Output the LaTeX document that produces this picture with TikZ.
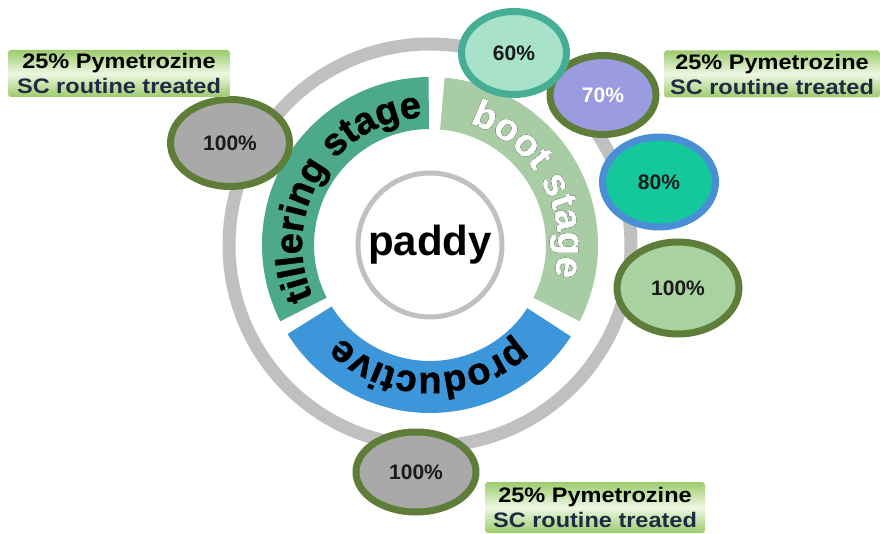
\documentclass[tikz,border=0pt]{standalone}
\usepackage{fontspec}
\setmainfont{Liberation Sans}
\newfontfamily\labfont{Liberation Sans}[FakeStretch=1.12]
\newfontfamily\ringfont{Liberation Sans}[BoldFeatures={FakeBold=1.3}]
\usetikzlibrary{decorations.text,shapes.geometric}
\definecolor{ringgray}{HTML}{C0C0C0}
\definecolor{tillcol}{HTML}{4CAA8B}
\definecolor{bootcol}{HTML}{A8CDA4}
\definecolor{prodcol}{HTML}{3E96DA}
\definecolor{oliveb}{HTML}{5E7D38}
\definecolor{ellgray}{HTML}{A9A9A9}
\definecolor{mintfill}{HTML}{A8E2CA}
\definecolor{tealline}{HTML}{45AE95}
\definecolor{lavfill}{HTML}{9B9BE0}
\definecolor{seafill}{HTML}{14C89C}
\definecolor{blueline}{HTML}{4A8FD6}
\definecolor{sagefill}{HTML}{A8D2A0}
\definecolor{navytxt}{HTML}{1F2A44}
\definecolor{pcttxt}{HTML}{1A1A1A}
\definecolor{shadowgray}{HTML}{555555}
\definecolor{labL}{HTML}{EEF7E2}
\definecolor{labT}{HTML}{9CCB6C}
\newcommand\ringtxt[4]{%
  \path[decorate, decoration={text along path, text align=center, text color=#4,
    text={|\ringfont\bfseries\fontsize{38}{38}\selectfont|#3}}]
    ([shift={(#1:128)}]C) arc[start angle=#1, end angle=#2, radius=128];}
\newcommand\sector[3]{%
  \fill[#3] ([shift={(#1:168)}]C) arc[start angle=#1, end angle=#2, radius=168]
    -- ([shift={(#2:116)}]C) arc[start angle=#2, end angle=#1, radius=116] -- cycle;}
\begin{document}
\begin{tikzpicture}[x=1pt,y=1pt,
  pct/.style={ellipse, line width=7pt, inner sep=0pt, text=pcttxt,
    font=\bfseries\fontsize{21}{21}\selectfont},
  labelbox/.style={rounded corners=3pt, top color=labT, bottom color=labT, middle color=labL,
    inner sep=0pt, minimum height=47pt, align=center,
    font=\labfont\bfseries\fontsize{21}{25}\selectfont}]
\useasboundingbox (0,0) rectangle (880,533);
\coordinate (C) at (430,288);
% outer gray ring
\draw[ringgray, line width=13pt] (C) circle[radius=201];
% stage sectors
\sector{90.5}{207}{tillcol}
\sector{212}{327}{prodcol}
\sector{-27}{85}{bootcol}
% centre
\node[circle, draw=ringgray, line width=5pt, minimum size=144pt, inner sep=0pt,
  font=\bfseries\fontsize{42}{42}\selectfont] (paddy) at (C) {paddy};
% ring texts
\ringtxt{207}{90.5}{tillering stage}{black}
\ringtxt{327}{212}{productive}{black}
\foreach \dx/\dy in {-1.8/-1.6,-1/0,0/-1,0.8/0.6,-0.6/0.8}{
  \begin{scope}[shift={(\dx,\dy)}]\ringtxt{85}{-27}{boot stage}{shadowgray}\end{scope}}
\ringtxt{85}{-27}{boot stage}{white}
% percentage ellipses
\node[pct, draw=oliveb, fill=ellgray, minimum width=119pt, minimum height=87pt] (eL) at (230,390) {100\%};
\node[pct, draw=oliveb, fill=lavfill, text=white, minimum width=106pt, minimum height=79pt] (e70) at (603,438) {70\%};
\node[pct, draw=tealline, fill=mintfill, minimum width=105pt, minimum height=83pt] (e60) at (514,480) {60\%};
\node[pct, draw=blueline, fill=seafill, minimum width=113pt, minimum height=90pt] (e80) at (659,351) {80\%};
\node[pct, draw=oliveb, fill=sagefill, minimum width=122pt, minimum height=92pt] (eR) at (678,245) {100\%};
\node[pct, draw=oliveb, fill=ellgray, minimum width=120pt, minimum height=80pt] (eB) at (416,61) {100\%};
% treatment labels
\node[labelbox, minimum width=222pt] (labTL) at (119,459.5) {25\% Pymetrozine\\\textcolor{navytxt}{SC routine treated}};
\node[labelbox, minimum width=216pt] (labTR) at (772,459) {25\% Pymetrozine\\\textcolor{navytxt}{SC routine treated}};
\node[labelbox, minimum width=220pt, minimum height=51pt] (labB) at (595,25.5) {25\% Pymetrozine\\\textcolor{navytxt}{SC routine treated}};
\end{tikzpicture}
\end{document}
